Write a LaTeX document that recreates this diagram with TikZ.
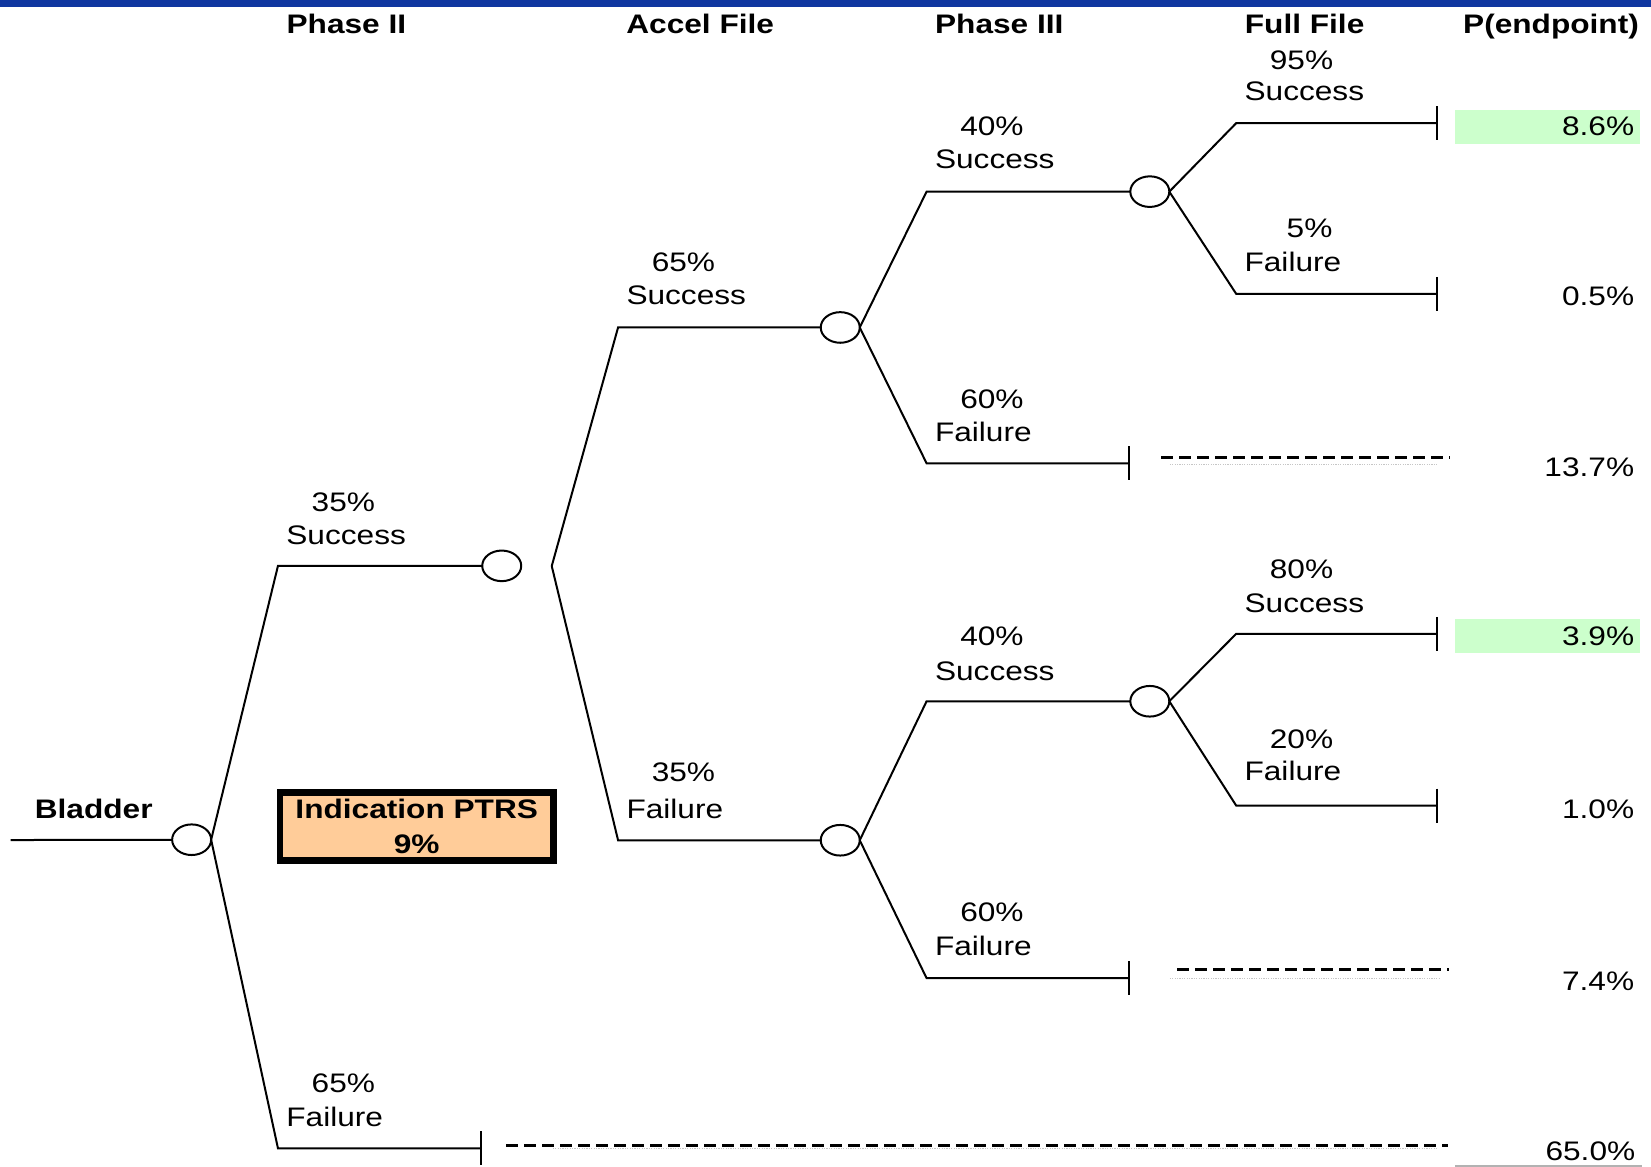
\documentclass[tikz,border=0pt]{standalone}
\usepackage{fontspec}
\setmainfont[FakeStretch=1.18]{Liberation Sans}
\usetikzlibrary{shapes.geometric,arrows.meta}
\definecolor{topblue}{RGB}{16,55,160}
\definecolor{peach}{RGB}{255,204,153}
\definecolor{lightgreen}{RGB}{204,255,204}
\begin{document}
\begin{tikzpicture}[x=0.52645pt,y=-0.52645pt,
  every node/.style={font=\fontsize{13.4}{16}\selectfont, inner sep=0pt, outer sep=0pt},
  chance/.style={ellipse, draw, line width=1pt, minimum width=19.5pt, minimum height=15.3pt, fill=white},
  br/.style={line width=1pt},
  term/.style={line width=1pt, -{Bar[width=17pt]}},
  lbl/.style={anchor=base west},
  hdr/.style={anchor=base, font=\fontsize{13.4}{16}\selectfont\bfseries},
  val/.style={anchor=base east},
  pend/.style={line width=1.5pt, dash pattern=on 5.85pt off 3.15pt},
  faint/.style={line width=0.4pt, gray!45, dash pattern=on 0.6pt off 0.6pt},
  ptrsbox/.style={draw=black, line width=3.3pt, fill=peach, minimum width=136.7pt, minimum height=34pt, align=center, font=\fontsize{13.4}{17.5}\selectfont\bfseries}]
\useasboundingbox (0,0) rectangle (1568,1108);
% top bar
\fill[topblue] (0,0) rectangle (1568,6.5);
% highlight cells
\fill[lightgreen] (1382,104) rectangle (1558,137);
\fill[lightgreen] (1382,588) rectangle (1558,620);
\draw[gray!60, line width=0.7pt] (1382,1107.4) -- (1559,1107.4);

% headers
\node[hdr] (h1) at (329,32) {Phase II};
\node[hdr] (h2) at (665,32) {Accel File};
\node[hdr] (h3) at (949,32) {Phase III};
\node[hdr] (h4) at (1239,32) {Full File};
\node[hdr] (h5) at (1473,32) {P(endpoint)};
\node[hdr] (bl) at (89,777.5) {Bladder};

% chance nodes
\coordinate (r0) at (10,797.8);
\node[chance] (c1) at (182,797.5) {};
\node[chance] (c2) at (476.5,537.4) {};
\coordinate (v2) at (524,537.6);
\node[chance] (c3) at (798,311) {};
\node[chance] (c4) at (798,798) {};
\node[chance] (c5) at (1092,182) {};
\node[chance] (c6) at (1092,666) {};
% terminals
\coordinate (t1) at (457.5,1090.6);
\coordinate (t2) at (1073,440);
\coordinate (t3) at (1073,929);
\coordinate (t4) at (1366,117);
\coordinate (t5) at (1366,279);
\coordinate (t6) at (1366,602);
\coordinate (t7) at (1366,765);

% branches
\draw[br] (r0) -- (c1);
\draw[br] (c1.east) -- (264,537.4) -- (c2);
\draw[term] (c1.east) -- (264,1090.6) -- (t1);
\draw[br] (v2) -- (587,311) -- (c3);
\draw[br] (v2) -- (587,798) -- (c4);
\draw[br] (c3.east) -- (880,182) -- (c5);
\draw[term] (c3.east) -- (880,440) -- (t2);
\draw[br] (c4.east) -- (880,666) -- (c6);
\draw[term] (c4.east) -- (880,929) -- (t3);
\draw[term] (c5.east) -- (1174,117) -- (t4);
\draw[term] (c5.east) -- (1174,279) -- (t5);
\draw[term] (c6.east) -- (1174,602) -- (t6);
\draw[term] (c6.east) -- (1174,765) -- (t7);

% pruned-branch dashed lines
\draw[faint] (1111,440.7) -- (1366,440.7);
\draw[pend] (1103,434.7) -- (1377,434.7);
\draw[faint] (1111,929) -- (1367,929);
\draw[pend] (1118,920.6) -- (1376,920.6);
\draw[faint] (525,1091) -- (1366,1091);
\draw[pend] (480.6,1087.5) -- (1375,1087.5);

% branch labels
\node[lbl] (l1a) at (296,485.5) {35\%};
\node[lbl] (l1b) at (272,517.5) {Success};
\node[lbl] (l2a) at (296,1037.5) {65\%};
\node[lbl] (l2b) at (272,1069.5) {Failure};
\node[lbl] (l3a) at (619,257.5) {65\%};
\node[lbl] (l3b) at (595,289.5) {Success};
\node[lbl] (l4a) at (619,742.5) {35\%};
\node[lbl] (l4b) at (595,777.5) {Failure};
\node[lbl] (l5a) at (912,128.5) {40\%};
\node[lbl] (l5b) at (888,160.5) {Success};
\node[lbl] (l6a) at (912,387.5) {60\%};
\node[lbl] (l6b) at (888,419.5) {Failure};
\node[lbl] (l7a) at (912,613.5) {40\%};
\node[lbl] (l7b) at (888,646.5) {Success};
\node[lbl] (l8a) at (912,875.5) {60\%};
\node[lbl] (l8b) at (888,907.5) {Failure};
\node[lbl] (l9a) at (1206,66) {95\%};
\node[lbl] (l9b) at (1182,95) {Success};
\node[lbl] (l10a) at (1222,225.5) {5\%};
\node[lbl] (l10b) at (1182,257.5) {Failure};
\node[lbl] (l11a) at (1206,549.5) {80\%};
\node[lbl] (l11b) at (1182,581.5) {Success};
\node[lbl] (l12a) at (1206,710.5) {20\%};
\node[lbl] (l12b) at (1182,741.5) {Failure};

% endpoint probabilities
\node[val] (p1) at (1552,128.5) {8.6\%};
\node[val] (p2) at (1552,290.5) {0.5\%};
\node[val] (p3) at (1552,452.5) {13.7\%};
\node[val] (p4) at (1552,613.5) {3.9\%};
\node[val] (p5) at (1552,777.5) {1.0\%};
\node[val] (p6) at (1552,940.5) {7.4\%};
\node[val] (p7) at (1553,1101.7) {65.0\%};

% indication PTRS box
\node[ptrsbox] (ptrs) at (395.75,785.2) {Indication PTRS\\9\%};
\end{tikzpicture}
\end{document}
